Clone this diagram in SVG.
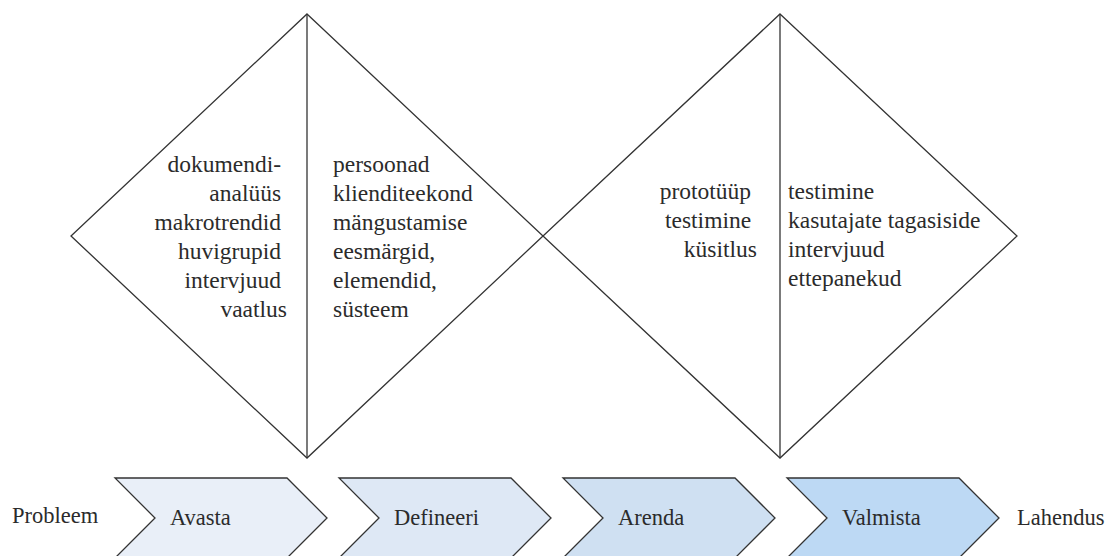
<svg xmlns="http://www.w3.org/2000/svg" width="1111" height="556" viewBox="0 0 1111 556">
  <style>
    .shape { fill: #ffffff; stroke: #333333; stroke-width: 1.3; stroke-linejoin: miter; }
    .div { stroke: #333333; stroke-width: 1.3; fill: none; }
    .chev { stroke: #333333; stroke-width: 1.3; stroke-linejoin: miter; }
    text { font-family: 'Liberation Serif', Tinos, 'Times New Roman', 'DejaVu Serif', serif; fill: #2b2b2b; }
    .t { font-size: 23.5px; }
    .c { font-size: 22.5px; }
    .end { text-anchor: end; }
  </style>
  <rect x="0" y="0" width="1111" height="556" fill="#ffffff"/>

  <g id="diamond-1">
    <polygon class="shape" points="307,14 543,236 307,458 71,236"/>
    <line class="div" x1="307" y1="14" x2="307" y2="458"/>
    <text class="t end" font-family="Liberation Serif, serif" x="287">
      <tspan x="287" y="172">dokumendi-</tspan>
      <tspan x="287" y="201">analüüs</tspan>
      <tspan x="287" y="230">makrotrendid</tspan>
      <tspan x="287" y="259">huvigrupid</tspan>
      <tspan x="287" y="288">intervjuud</tspan>
      <tspan x="287" y="317">vaatlus</tspan>
    </text>
    <text class="t" font-family="Liberation Serif, serif" x="333">
      <tspan x="333" y="172">persoonad</tspan>
      <tspan x="333" y="201">klienditeekond</tspan>
      <tspan x="333" y="230">mängustamise</tspan>
      <tspan x="333" y="259">eesmärgid,</tspan>
      <tspan x="333" y="288">elemendid,</tspan>
      <tspan x="333" y="317">süsteem</tspan>
    </text>
  </g>

  <g id="diamond-2">
    <polygon class="shape" points="780,14 1017,236 780,458 543,236" fill-opacity="0"/>
    <line class="div" x1="780" y1="14" x2="780" y2="458"/>
    <text class="t end" font-family="Liberation Serif, serif" x="757">
      <tspan x="757" y="199">prototüüp</tspan>
      <tspan x="757" y="228">testimine</tspan>
      <tspan x="757" y="257">küsitlus</tspan>
    </text>
    <text class="t" font-family="Liberation Serif, serif" x="788">
      <tspan x="788" y="199">testimine</tspan>
      <tspan x="788" y="228">kasutajate tagasiside</tspan>
      <tspan x="788" y="257">intervjuud</tspan>
      <tspan x="788" y="286">ettepanekud</tspan>
    </text>
  </g>

  <g id="label-probleem">
    <text class="c" font-family="Liberation Serif, serif" x="12" y="523">Probleem</text>
  </g>

  <g id="step-avasta">
    <path class="chev" fill="#e9eff8" d="M115,478 L287,478 L327,518 L287,558 L115,558 L155,518 Z"/>
    <text class="c" font-family="Liberation Serif, serif" x="170" y="525">Avasta</text>
  </g>

  <g id="step-defineeri">
    <path class="chev" fill="#dee8f5" d="M339,478 L511,478 L551,518 L511,558 L339,558 L379,518 Z"/>
    <text class="c" font-family="Liberation Serif, serif" x="394" y="525">Defineeri</text>
  </g>

  <g id="step-arenda">
    <path class="chev" fill="#cfe0f2" d="M563,478 L735,478 L775,518 L735,558 L563,558 L603,518 Z"/>
    <text class="c" font-family="Liberation Serif, serif" x="618" y="525">Arenda</text>
  </g>

  <g id="step-valmista">
    <path class="chev" fill="#bdd9f4" d="M787,478 L959,478 L999,518 L959,558 L787,558 L827,518 Z"/>
    <text class="c" font-family="Liberation Serif, serif" x="842" y="525">Valmista</text>
  </g>

  <g id="label-lahendus">
    <text class="c" font-family="Liberation Serif, serif" x="1017" y="525">Lahendus</text>
  </g>

  <g id="connectors"></g>
</svg>
